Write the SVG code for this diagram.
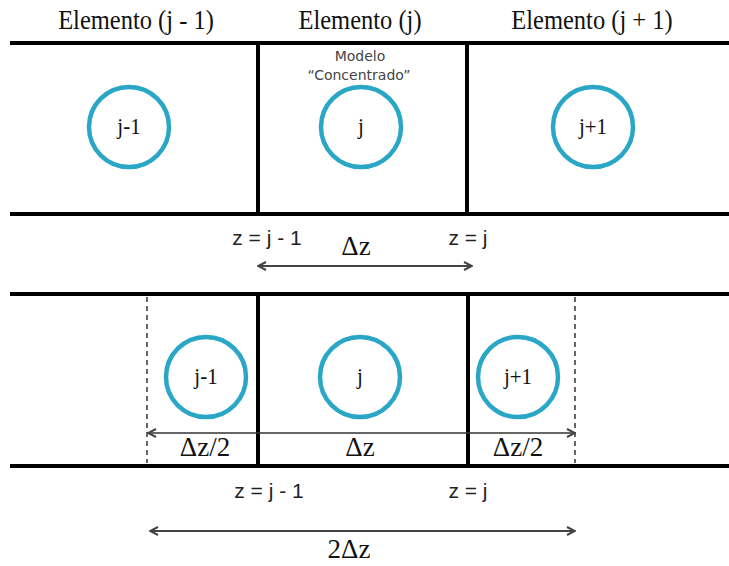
<svg xmlns="http://www.w3.org/2000/svg" width="729" height="566" viewBox="0 0 729 566">
<style>
.wall{stroke:#000;stroke-width:4;fill:none}
.dash{stroke:#333;stroke-width:1.5;stroke-dasharray:5 4;fill:none}
.node{fill:none;stroke:#2aa6c6;stroke-width:4.5}
.serif{font-family:"Liberation Serif","Times New Roman",serif;fill:#111}
.sans{font-family:"Liberation Sans",Arial,sans-serif;fill:#222}
.note{font-family:"DejaVu Sans",Verdana,sans-serif;fill:#444;font-size:14px}
.dim{stroke:#444;stroke-width:2;fill:none}
.dim2{stroke:#333;stroke-width:1.3;fill:none}
</style>
<defs>
<marker id="ah" viewBox="0 0 10 10" refX="9" refY="5" markerWidth="10" markerHeight="10" markerUnits="userSpaceOnUse" orient="auto-start-reverse">
<path d="M1,1 L9,5 L1,9" fill="none" stroke="#444" stroke-width="2"/>
</marker>
</defs>
<rect width="729" height="566" fill="#fff"/>
<g id="top-panel">
<line class="wall" x1="10" y1="43" x2="729" y2="43"/>
<line class="wall" x1="10" y1="214" x2="729" y2="214"/>
<line class="wall" x1="258" y1="43" x2="258" y2="214"/>
<line class="wall" x1="467" y1="43" x2="467" y2="214"/>
</g>
<g id="titles" class="serif" font-size="24.5" text-anchor="middle">
<text transform="translate(136,29) scale(1,1.15)">Elemento (j - 1)</text>
<text transform="translate(360,29) scale(1,1.15)">Elemento (j)</text>
<text transform="translate(592,29) scale(1,1.15)">Elemento (j + 1)</text>
</g>
<g id="note" class="note" text-anchor="middle">
<text x="360" y="61">Modelo</text>
<text x="359" y="80">“Concentrado”</text>
</g>
<g id="node-top-jm1"><circle class="node" cx="129" cy="127" r="40"/><text class="serif" font-size="21" text-anchor="middle" transform="translate(129,134) scale(1,1.1)">j-1</text></g>
<g id="node-top-j"><circle class="node" cx="361" cy="127" r="40"/><text class="serif" font-size="21" text-anchor="middle" transform="translate(361,134) scale(1,1.1)">j</text></g>
<g id="node-top-jp1"><circle class="node" cx="593" cy="127" r="40"/><text class="serif" font-size="21" text-anchor="middle" transform="translate(593,134) scale(1,1.1)">j+1</text></g>
<g id="bottom-panel">
<line class="wall" x1="10" y1="294" x2="729" y2="294"/>
<line class="wall" x1="10" y1="466" x2="729" y2="466"/>
<line class="wall" x1="258" y1="294" x2="258" y2="466"/>
<line class="wall" x1="468" y1="294" x2="468" y2="466"/>
<line class="dash" x1="147" y1="297" x2="147" y2="463"/>
<line class="dash" x1="575" y1="297" x2="575" y2="463"/>
</g>
<g id="node-bot-jm1"><circle class="node" cx="206" cy="377" r="40"/><text class="serif" font-size="21" text-anchor="middle" transform="translate(206,384) scale(1,1.1)">j-1</text></g>
<g id="node-bot-j"><circle class="node" cx="360" cy="377" r="40"/><text class="serif" font-size="21" text-anchor="middle" transform="translate(360,384) scale(1,1.1)">j</text></g>
<g id="node-bot-jp1"><circle class="node" cx="518" cy="377" r="40"/><text class="serif" font-size="21" text-anchor="middle" transform="translate(518,384) scale(1,1.1)">j+1</text></g>
<g id="connectors">
<line class="dim" x1="258" y1="266" x2="472" y2="266" marker-start="url(#ah)" marker-end="url(#ah)"/>
<line class="dim2" x1="148" y1="433" x2="575" y2="433" marker-start="url(#ah)" marker-end="url(#ah)"/>
<line class="dim" x1="150" y1="531" x2="575" y2="531" marker-start="url(#ah)" marker-end="url(#ah)"/>
</g>
<g id="labels" text-anchor="middle">
<text class="sans" font-size="21" x="267" y="245">z = j - 1</text>
<text class="sans" font-size="21" x="468" y="245">z = j</text>
<text class="serif" font-size="27" x="356" y="255">Δz</text>
<text class="serif" font-size="27" x="205" y="456">Δz/2</text>
<text class="serif" font-size="27" x="360" y="456">Δz</text>
<text class="serif" font-size="27" x="518" y="456">Δz/2</text>
<text class="sans" font-size="21" x="269" y="498">z = j - 1</text>
<text class="sans" font-size="21" x="468" y="498">z = j</text>
<text class="serif" font-size="27" x="349" y="558">2Δz</text>
</g>
</svg>
